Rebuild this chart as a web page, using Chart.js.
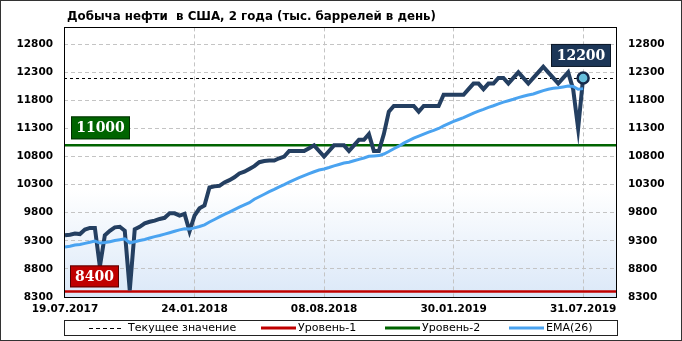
<!DOCTYPE html>
<html><head><meta charset="utf-8">
<script src="https://cdn.jsdelivr.net/npm/chart.js@4.4.1/dist/chart.umd.min.js"></script>
<style>html,body{margin:0;padding:0;background:#fff;}#wrap{width:682px;height:341px;position:relative;}</style>
</head><body><div id="wrap"><canvas id="c" width="682" height="341"></canvas></div>
<script>
const titleText = 'Добыча нефти  в США, 2 года (тыс. баррелей в день)';
const tickPositions = [0, 26, 52, 78, 104];
const tickLabels = ['19.07.2017', '24.01.2018', '08.08.2018', '30.01.2019', '31.07.2019'];
const yTicks = [8300, 8800, 9300, 9800, 10300, 10800, 11300, 11800, 12300, 12800];
const production = [
  9400, 9410, 9430, 9420, 9500, 9530, 9530, 8840, 9400, 9480,
  9540, 9550, 9480, 8420, 9505, 9550, 9610, 9640, 9660, 9690,
  9710, 9790, 9790, 9750, 9780, 9470, 9750, 9880, 9930, 10250,
  10270, 10280, 10340, 10380, 10430, 10500, 10530, 10580, 10630, 10700,
  10720, 10730, 10730, 10770, 10800, 10900, 10900, 10900, 10900, 10950,
  11000, 10900, 10800, 10900, 11000, 11000, 11000, 10900, 11000, 11100,
  11100, 11200, 10900, 10900, 11200, 11600, 11700, 11700, 11700, 11700,
  11700, 11600, 11700, 11700, 11700, 11700, 11900, 11900, 11900, 11900,
  11900, 12000, 12100, 12100, 12000, 12100, 12100, 12200, 12200, 12100,
  12200, 12300, 12200, 12100, 12200, 12300, 12400, 12300, 12200, 12100,
  12200, 12300, 12000, 11300, 12200
];
const ema26 = [
  9190, 9205, 9225, 9235, 9255, 9275, 9295, 9260, 9270, 9285,
  9305, 9320, 9335, 9265, 9285, 9305, 9325, 9350, 9375, 9395,
  9420, 9445, 9470, 9495, 9515, 9510, 9530, 9555, 9585, 9635,
  9680, 9725, 9770, 9810, 9855, 9900, 9940, 9980, 10040, 10085,
  10130, 10175, 10215, 10260, 10300, 10345, 10385, 10425, 10460, 10495,
  10530, 10560, 10580, 10605, 10635, 10660, 10685, 10700, 10725, 10750,
  10775, 10805, 10812, 10818, 10845, 10890, 10940, 10985, 11040, 11085,
  11130, 11165, 11200, 11235, 11265, 11300, 11345, 11385, 11425, 11460,
  11495, 11535, 11575, 11610, 11640, 11675, 11705, 11740, 11770, 11795,
  11820, 11850, 11875, 11895, 11915, 11945, 11975, 12000, 12015, 12025,
  12040, 12055, 12050, 12000, 12010
];
const level1 = 8400;
const level2 = 11000;
const currentValue = 12200;
const legendLabels = ['Текущее значение', 'Уровень-1', 'Уровень-2', 'EMA(26)'];

const C_MAIN = '#243f61', C_EMA = '#4aa3f0', C_RED = '#c00000', C_GREEN = '#006400', C_NAVY = '#1c3657';
const tickFont = { family: 'DejaVu Sans', size: 10.5, weight: 'bold' };

const decor = {
  id: 'decor',
  beforeDraw(chart) {
    const { ctx, chartArea: a } = chart;
    ctx.save();
    ctx.fillStyle = '#ffffff';
    ctx.fillRect(0, 0, chart.width, chart.height);
    const g = ctx.createLinearGradient(0, a.top, 0, a.bottom);
    g.addColorStop(0, '#ffffff');
    g.addColorStop(0.6, '#ffffff');
    g.addColorStop(1, '#dbe8f8');
    ctx.fillStyle = g;
    ctx.fillRect(a.left, a.top, a.right - a.left, a.bottom - a.top);
    ctx.restore();
  },
  beforeDatasetsDraw(chart) {
    const { ctx, chartArea: a, scales: { y } } = chart;
    ctx.save();
    const yl1 = y.getPixelForValue(level1), yl2 = y.getPixelForValue(level2), yc = y.getPixelForValue(currentValue);
    ctx.lineWidth = 2.5;
    ctx.strokeStyle = C_RED;
    ctx.beginPath(); ctx.moveTo(a.left, yl1); ctx.lineTo(a.right, yl1); ctx.stroke();
    ctx.strokeStyle = C_GREEN;
    ctx.beginPath(); ctx.moveTo(a.left, yl2); ctx.lineTo(a.right, yl2); ctx.stroke();
    ctx.lineWidth = 1;
    ctx.strokeStyle = '#000';
    ctx.setLineDash([3, 3]);
    ctx.beginPath(); ctx.moveTo(a.left, Math.round(yc) + 0.5); ctx.lineTo(a.right, Math.round(yc) + 0.5); ctx.stroke();
    ctx.restore();
  },
  afterDatasetsDraw(chart) {
    const { ctx, chartArea: a, scales: { y } } = chart;
    ctx.save();
    ctx.strokeStyle = '#000';
    ctx.lineWidth = 1;
    ctx.strokeRect(Math.round(a.left) + 0.5, Math.round(a.top) + 0.5, Math.round(a.right - a.left), Math.round(a.bottom - a.top));
    const box = (text, x, bottom, w, h, bg) => {
      ctx.fillStyle = bg;
      ctx.fillRect(x, bottom - h, w, h);
      ctx.strokeStyle = 'rgba(0,0,0,0.55)';
      ctx.lineWidth = 1;
      ctx.strokeRect(x + 0.5, bottom - h + 0.5, w - 1, h - 1);
      ctx.fillStyle = '#fff';
      ctx.font = 'bold 14px "DejaVu Serif", "Liberation Serif", serif';
      ctx.textAlign = 'center';
      ctx.textBaseline = 'middle';
      ctx.fillText(text, x + w / 2, bottom - h / 2 + 1);
    };
    box(String(level2), a.left + 7, y.getPixelForValue(level2) - 6, 59, 23, C_GREEN);
    box(String(level1), a.left + 6, y.getPixelForValue(level1) - 4, 49, 22, C_RED);
    box(String(currentValue), a.right - 65, y.getPixelForValue(currentValue) - 11, 60, 23, C_NAVY);
    ctx.restore();
  },
  afterDraw(chart) {
    const { ctx } = chart;
    ctx.save();
    ctx.font = 'bold 12px "DejaVu Sans", sans-serif';
    ctx.fillStyle = '#000';
    ctx.textBaseline = 'alphabetic';
    ctx.textAlign = 'left';
    const tw = ctx.measureText(titleText).width;
    ctx.translate(67, 19.5);
    ctx.scale(369 / tw, 1);
    ctx.fillText(titleText, 0, 0);
    ctx.setTransform(1, 0, 0, 1, 0, 0);
    ctx.strokeStyle = '#222';
    ctx.lineWidth = 1;
    ctx.strokeRect(64.5, 320.5, 553, 15);
    const ly = 328;
    ctx.font = '11px "DejaVu Sans", sans-serif';
    ctx.textBaseline = 'middle';
    ctx.fillStyle = '#000';
    const item = (x1, x2, color, width, dash, label, tx) => {
      ctx.save();
      ctx.strokeStyle = color; ctx.lineWidth = width; ctx.setLineDash(dash);
      const yy = ly + (width === 1 ? 0.5 : 0);
      ctx.beginPath(); ctx.moveTo(x1, yy); ctx.lineTo(x2, yy); ctx.stroke();
      ctx.restore();
      ctx.fillText(label, tx, ly);
    };
    item(89, 122, '#000', 1, [4, 3], legendLabels[0], 128);
    item(261, 296, C_RED, 3, [], legendLabels[1], 298);
    item(385, 420, C_GREEN, 3, [], legendLabels[2], 422);
    item(509, 544, C_EMA, 3, [], legendLabels[3], 546);
    ctx.strokeStyle = '#333';
    ctx.lineWidth = 1;
    ctx.strokeRect(0.5, 0.5, chart.width - 1, chart.height - 1);
    ctx.restore();
  }
};

const toPts = arr => arr.map((v, i) => ({ x: i, y: v }));

new Chart(document.getElementById('c'), {
  type: 'line',
  data: {
    datasets: [
      { label: 'EMA(26)', data: toPts(ema26), borderColor: C_EMA, borderWidth: 3, pointRadius: 0, order: 0, yAxisID: 'y' },
      { label: 'Добыча', data: toPts(production), borderColor: C_MAIN, borderWidth: 4, order: 1, yAxisID: 'y',
        pointRadius: c => c.dataIndex === production.length - 1 ? 5.5 : 0,
        pointHoverRadius: 0,
        pointBackgroundColor: '#67bfdc', pointBorderColor: '#15294a', pointBorderWidth: 2.5 }
    ]
  },
  options: {
    responsive: false, animation: false, devicePixelRatio: 1,
    layout: { padding: { top: 27.4, left: 0, right: 0, bottom: 0 } },
    plugins: { legend: { display: false }, title: { display: false }, tooltip: { enabled: false } },
    scales: {
      x: {
        type: 'linear', min: -0.2, max: 110.6,
        afterBuildTicks: s => { s.ticks = tickPositions.map(v => ({ value: v })); },
        afterFit: s => { s.height = 44; },
        ticks: { autoSkip: false, maxRotation: 0, padding: 6, color: '#000', font: tickFont,
          callback: (v, i) => tickLabels[i] },
        grid: { color: '#c4c4c4', lineWidth: 1, drawTicks: false },
        border: { display: false, dash: [4, 3] }
      },
      y: {
        type: 'linear', position: 'left', min: 8300, max: 13100,
        afterBuildTicks: s => { s.ticks = yTicks.map(v => ({ value: v })); },
        afterFit: s => { s.width = 64; },
        ticks: { padding: 11, color: '#000', font: tickFont, callback: v => String(v) },
        grid: { color: '#c4c4c4', lineWidth: 1, drawTicks: false },
        border: { display: false, dash: [4, 3] }
      },
      y2: {
        type: 'linear', position: 'right', min: 8300, max: 13100,
        afterBuildTicks: s => { s.ticks = yTicks.map(v => ({ value: v })); },
        afterFit: s => { s.width = 66; },
        ticks: { padding: 12, color: '#000', font: tickFont, callback: v => String(v) },
        grid: { display: false, drawTicks: false },
        border: { display: false }
      }
    }
  },
  plugins: [decor]
});
</script>
</body></html>
